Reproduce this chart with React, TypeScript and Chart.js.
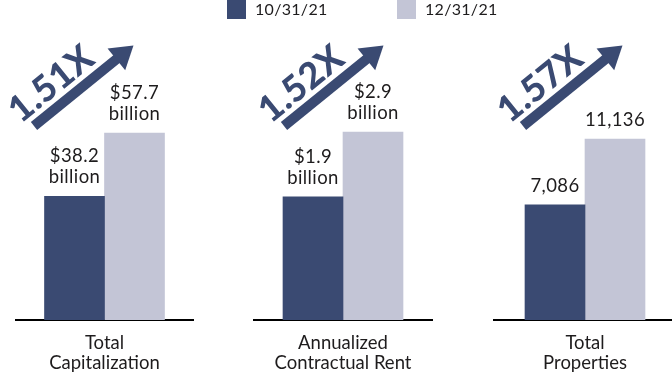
import React, { useEffect, useRef } from 'react';
import { Chart, registerables } from 'chart.js';

Chart.register(...registerables);

// ---- data ----
const seriesNames = ['10/31/21', '12/31/21'];
const categories = [
  ['Total', 'Capitalization'],
  ['Annualized', 'Contractual Rent'],
  ['Total', 'Properties'],
];
const capitalizationValues = [38.2, 57.7];
const rentValues = [1.9, 2.9];
const propertyValues = [7086, 11136];
const capitalizationLabels = [['$38.2', 'billion'], ['$57.7', 'billion']];
const rentLabels = [['$1.9', 'billion'], ['$2.9', 'billion']];
const propertyLabels = [['7,086'], ['11,136']];
const growthLabels = ['1.51X', '1.52X', '1.57X'];

// ---- styles ----
const NAVY = '#3a4a72';
const LIGHT = '#c3c5d6';
const seriesColors = [NAVY, LIGHT];
const TEXT = '#1e1c1d';
const FONT = 'Lato, "Noto Sans", sans-serif';
const CANVAS_W = 680;
const CANVAS_H = 376;

const panels = [
  { values: capitalizationValues, labels: capitalizationLabels, category: categories[0], growth: growthLabels[0], left: 16, right: 193, yMax: 67.9, arrowDx: -10.5 },
  { values: rentValues, labels: rentLabels, category: categories[1], growth: growthLabels[1], left: 254, right: 432, yMax: 3.393, arrowDx: 1 },
  { values: propertyValues, labels: propertyLabels, category: categories[2], growth: growthLabels[2], left: 494, right: 676, yMax: 13535, arrowDx: -2 },
];

function makePlugin(p: any, idx: number) {
  return {
    id: 'decor' + idx,
    afterDatasetsDraw(chart: any) {
      const ctx = chart.ctx;
      ctx.save();
      // value labels
      ctx.fillStyle = TEXT;
      ctx.font = `18.5px ${FONT}`;
      ctx.textAlign = 'center';
      ctx.textBaseline = 'alphabetic';
      try { (ctx as any).letterSpacing = '0.4px'; } catch (e) {}
      chart.data.datasets.forEach((_ds: any, i: number) => {
        const bar = chart.getDatasetMeta(i).data[0];
        const lines: string[] = p.labels[i];
        lines.forEach((t, j) => {
          ctx.fillText(t, bar.x, bar.y - 13 - (lines.length - 1 - j) * 21);
        });
      });
      ctx.restore();

      // growth arrow
      const b0 = chart.getDatasetMeta(0).data[0];
      const sx = b0.x - b0.width / 2 + p.arrowDx;
      const sy = chart.chartArea.top + 26;
      const ang = (39 * Math.PI) / 180;
      ctx.save();
      ctx.translate(sx, sy);
      ctx.rotate(-ang);
      ctx.fillStyle = NAVY;
      ctx.fillRect(0, -5, 109, 10);
      ctx.beginPath();
      ctx.moveTo(106, -14);
      ctx.lineTo(128, 0);
      ctx.lineTo(106, 14);
      ctx.closePath();
      ctx.fill();
      ctx.font = `900 36px ${FONT}`;
      try { (ctx as any).letterSpacing = '0.5px'; } catch (e) {}
      ctx.textAlign = 'left';
      ctx.textBaseline = 'alphabetic';
      ctx.fillText(p.growth, -9, -10);
      ctx.restore();

      // legend (drawn once)
      if (idx === 1) {
        ctx.save();
        const xs = [227, 397];
        ctx.font = `16px ${FONT}`;
        try { (ctx as any).letterSpacing = '0.3px'; } catch (e) {}
        ctx.textAlign = 'left';
        ctx.textBaseline = 'alphabetic';
        seriesNames.forEach((n, i) => {
          ctx.fillStyle = seriesColors[i];
          ctx.fillRect(xs[i], 0, 19, 19);
          ctx.fillStyle = TEXT;
          ctx.fillText(n, xs[i] + 28, 15);
        });
        ctx.restore();
      }
    },
  };
}

function makeConfig(p: any, idx: number): any {
  return {
    type: 'bar',
    data: {
      labels: [p.category],
      datasets: seriesNames.map((n, i) => ({
        label: n,
        data: [p.values[i]],
        backgroundColor: seriesColors[i],
        borderWidth: 0,
        barThickness: 60,
      })),
    },
    options: {
      responsive: false,
      animation: false,
      events: [],
      layout: { padding: { left: p.left, right: CANVAS_W - p.right, top: 100, bottom: 0 } },
      plugins: { legend: { display: false }, tooltip: { enabled: false } },
      scales: {
        x: {
          grid: { display: false, drawTicks: false },
          border: { display: true, color: '#000', width: 2 },
          ticks: { color: TEXT, padding: 13, font: { family: FONT, size: 18.5, lineHeight: 1.08 } },
          afterFit: (s: any) => {
            s.height = 56;
          },
        },
        y: { display: false, min: 0, max: p.yMax },
      },
    },
    plugins: [makePlugin(p, idx)],
  };
}

export default function App() {
  const r0 = useRef<HTMLCanvasElement>(null);
  const r1 = useRef<HTMLCanvasElement>(null);
  const r2 = useRef<HTMLCanvasElement>(null);
  const refs = [r0, r1, r2];
  useEffect(() => {
    const charts = panels.map((p, i) => new Chart(refs[i].current as HTMLCanvasElement, makeConfig(p, i)));
    return () => charts.forEach((c) => c.destroy());
  }, []);
  return (
    <div style={{ position: 'fixed', left: 0, top: 0, width: 672, height: 376, overflow: 'hidden', background: '#fff' }}>
      {panels.map((_p, i) => (
        <canvas
          key={i}
          ref={refs[i]}
          width={CANVAS_W}
          height={CANVAS_H}
          style={{ position: 'absolute', left: 0, top: 0, width: CANVAS_W, height: CANVAS_H }}
        />
      ))}
    </div>
  );
}
